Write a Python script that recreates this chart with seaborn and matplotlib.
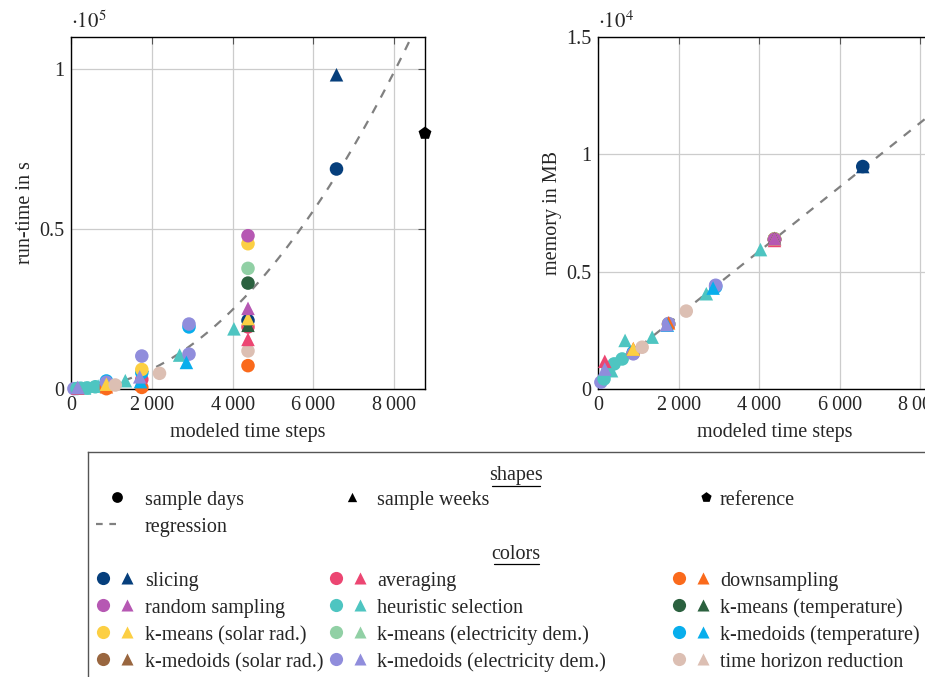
import numpy as np
import pandas as pd
import seaborn as sns
import matplotlib.pyplot as plt
from matplotlib.ticker import FuncFormatter, MultipleLocator

# --- data

methods = ["slicing", "averaging", "downsampling",
           "random sampling", "heuristic selection", "k-means (temperature)",
           "k-means (solar rad.)", "k-means (electricity dem.)", "k-medoids (temperature)",
           "k-medoids (solar rad.)", "k-medoids (electricity dem.)", "time horizon reduction"]
colors = ["#063f7c", "#ec4672", "#fa6a1c",
          "#b658b3", "#4ec5c1", "#2b613f",
          "#fccf43", "#91d0a5", "#08aeec",
          "#99663f", "#908ddc", "#dcbfb3"]

method = ["k-medoids (electricity dem.)", "heuristic selection", "heuristic selection", "heuristic selection",
          "heuristic selection", "heuristic selection", "heuristic selection", "heuristic selection",
          "heuristic selection", "heuristic selection", "averaging", "k-medoids (electricity dem.)",
          "averaging", "downsampling", "k-medoids (temperature)", "k-medoids (electricity dem.)",
          "downsampling", "k-means (solar rad.)", "time horizon reduction",
          "downsampling", "averaging", "k-medoids (temperature)", "k-means (solar rad.)",
          "k-medoids (electricity dem.)", "downsampling", "k-medoids (temperature)",
          "k-medoids (electricity dem.)", "time horizon reduction",
          "k-medoids (temperature)", "k-medoids (electricity dem.)", "k-medoids (electricity dem.)",
          "k-medoids (temperature)",
          "downsampling", "time horizon reduction", "averaging", "slicing", "k-means (temperature)",
          "k-means (electricity dem.)", "k-means (solar rad.)", "random sampling", "averaging",
          "k-means (temperature)", "k-means (solar rad.)", "random sampling",
          "slicing", "slicing", "reference"]
shape = ["sample days", "sample days", "sample days", "sample days",
         "sample days", "sample weeks", "sample weeks", "sample weeks",
         "sample weeks", "sample weeks", "sample weeks", "sample weeks",
         "sample days", "sample days", "sample days", "sample days",
         "sample weeks", "sample weeks", "sample days",
         "sample days", "sample days", "sample days", "sample days",
         "sample days", "sample weeks", "sample weeks",
         "sample weeks", "sample days",
         "sample days", "sample days", "sample days",
         "sample weeks",
         "sample days", "sample days", "sample days", "sample days", "sample days",
         "sample days", "sample days", "sample days", "sample weeks",
         "sample weeks", "sample weeks", "sample weeks",
         "sample weeks", "sample days", "reference"]
steps = [72, 150, 240, 400,
         600, 336, 672, 1344,
         2688, 4032, 168, 168,
         876, 876, 876, 876,
         876, 876, 1095,
         1752, 1752, 1752, 1752,
         1752, 1752, 1720,
         1700, 2190,
         2920, 2920, 2920,
         2856,
         4380, 4380, 4380, 4380, 4380,
         4380, 4380, 4380, 4380,
         4380, 4380, 4380,
         6570, 6570, 8760]
runtime = [100, 150, 250, 350,
           700, 300, 900, 2600,
           10600, 18800, 300, 500,
           1000, 100, 2500, 2100,
           700, 1500, 1250,
           500, 3000, 5100, 6100,
           10300, 1500, 2300,
           3800, 4900,
           19400, 20300, 10900,
           8300,
           7300, 11900, 19400, 21400, 33100,
           37700, 45400, 47900, 15500,
           19900, 22000, 25200,
           98200, 68750, 79900]
memory = [290, 430, 780, 1070,
          1280, 780, 2070, 2210,
          4060, 5940, 1180, 850,
          1520, 1540, 1560, 1500,
          1720, 1700, 1780,
          2750, 2760, 2770, 2780,
          2790, 2820, 2720,
          2740, 3320,
          4350, 4420, 4400,
          4300,
          6370, 6380, 6350, 6360, 6400,
          6400, 6390, 6380, 6330,
          6420, 6390, 6400,
          9480, 9480, 12400]

# regression coefficients
runtime_coef = [1.55e-3, 0.0, 0.0]   # quadratic
memory_coef = [1.37, 390.0]          # linear

df = pd.DataFrame({"method": method, "shape": shape, "steps": steps,
                   "runtime": runtime, "memory": memory})

palette = dict(zip(methods, colors))
palette["reference"] = "black"
marker_map = {"sample days": "o", "sample weeks": "^", "reference": "p"}

sns.set_style("white")
plt.rcParams["font.family"] = ["Liberation Serif", "DejaVu Serif"]
plt.rcParams["mathtext.fontset"] = "stix"
fs = 14.5
plt.rcParams["font.size"] = fs

fig = plt.figure(figsize=(9.25, 6.77), dpi=100)
W, H = 925, 677


def px_axes(x0, y0, x1, y1):
    return fig.add_axes([x0 / W, (H - y1) / H, (x1 - x0) / W, (y1 - y0) / H])


ax1 = px_axes(71, 37, 425, 389)
ax2 = px_axes(598, 37, 951, 389)

xs = np.linspace(0, 8760, 300)
fits = [np.polyval(runtime_coef, xs), np.polyval(memory_coef, xs)]

for ax, col, fit, ymax, step, exp, ylab in [
        (ax1, "runtime", fits[0], 1.1e5, 0.5e5, 5, "run-time in s"),
        (ax2, "memory", fits[1], 1.5e4, 0.5e4, 4, "memory in MB")]:
    ax.plot(xs, fit, ls=(0, (4, 4)), color="#808080", lw=1.6, zorder=2)
    sns.scatterplot(data=df, x="steps", y=col, hue="method", style="shape",
                    palette=palette, markers=marker_map, s=95, linewidth=0,
                    legend=False, ax=ax, zorder=3, clip_on=False)
    ax.set_xlim(0, 8760)
    ax.set_ylim(0, ymax)
    ax.xaxis.set_major_locator(MultipleLocator(2000))
    ax.yaxis.set_major_locator(MultipleLocator(step))
    ax.xaxis.set_major_formatter(FuncFormatter(lambda v, p: f"{int(v):,}".replace(",", "\u2009")))
    ax.yaxis.set_major_formatter(FuncFormatter(lambda v, p, e=exp: f"{v / 10 ** e:g}"))
    ax.grid(True, color="#cccccc", lw=0.9, zorder=0)
    ax.set_axisbelow(True)
    ax.tick_params(direction="in", length=5, width=0.8, color="#555555",
                   top=True, right=True, labelsize=fs, pad=5)
    for s in ax.spines.values():
        s.set_color("black")
        s.set_linewidth(1.0)
    ax.set_xlabel("modeled time steps", fontsize=fs, labelpad=6)
    ax.set_ylabel(ylab, fontsize=fs, labelpad=3)
    ax.text(0.0, 1.012, rf"$\cdot10^{{{exp}}}$", transform=ax.transAxes,
            fontsize=15, ha="left", va="bottom")

# --- legend box built by hand
lg = px_axes(88, 452, 1000, 745)
lg.set_xlim(88, 1000)
lg.set_ylim(745, 452)
lg.set_xticks([])
lg.set_yticks([])
lg.set_facecolor("white")
for s in lg.spines.values():
    s.set_color("#555555")
    s.set_linewidth(1.0)

va = "center_baseline"
lg.text(516, 473, "shapes", ha="center", va=va, fontsize=fs)
lg.plot([492, 540], [486, 486], color="black", lw=0.9)
shape_items = [("o", 117, 145, "sample days"), ("^", 352, 377, "sample weeks"),
               ("p", 706, 720, "reference")]
for m, mx, tx, label in shape_items:
    lg.scatter([mx], [497], marker=m, s=60 if m != "^" else 45, color="black", linewidth=0)
    lg.text(tx, 498, label, va=va, fontsize=fs)
lg.plot([96, 118], [524, 524], ls=(0, (3, 3)), color="#808080", lw=1.6)
lg.text(145, 525, "regression", va=va, fontsize=fs)

lg.text(516, 552, "colors", ha="center", va=va, fontsize=fs)
lg.plot([494, 539], [564, 564], color="black", lw=0.9)
col_x = [(103, 127, 145), (336, 360, 377), (679, 703, 720)]
row_y = [578, 605, 632, 659]
for i, (name, c) in enumerate(zip(methods, colors)):
    cx, tx_, lx = col_x[i % 3]
    y = row_y[i // 3]
    lg.scatter([cx], [y], marker="o", s=90, color=c, linewidth=0)
    lg.scatter([tx_], [y], marker="^", s=75, color=c, linewidth=0)
    lg.text(lx, y + 1, name, va=va, fontsize=fs)

fig.savefig("out.png", dpi=100)
